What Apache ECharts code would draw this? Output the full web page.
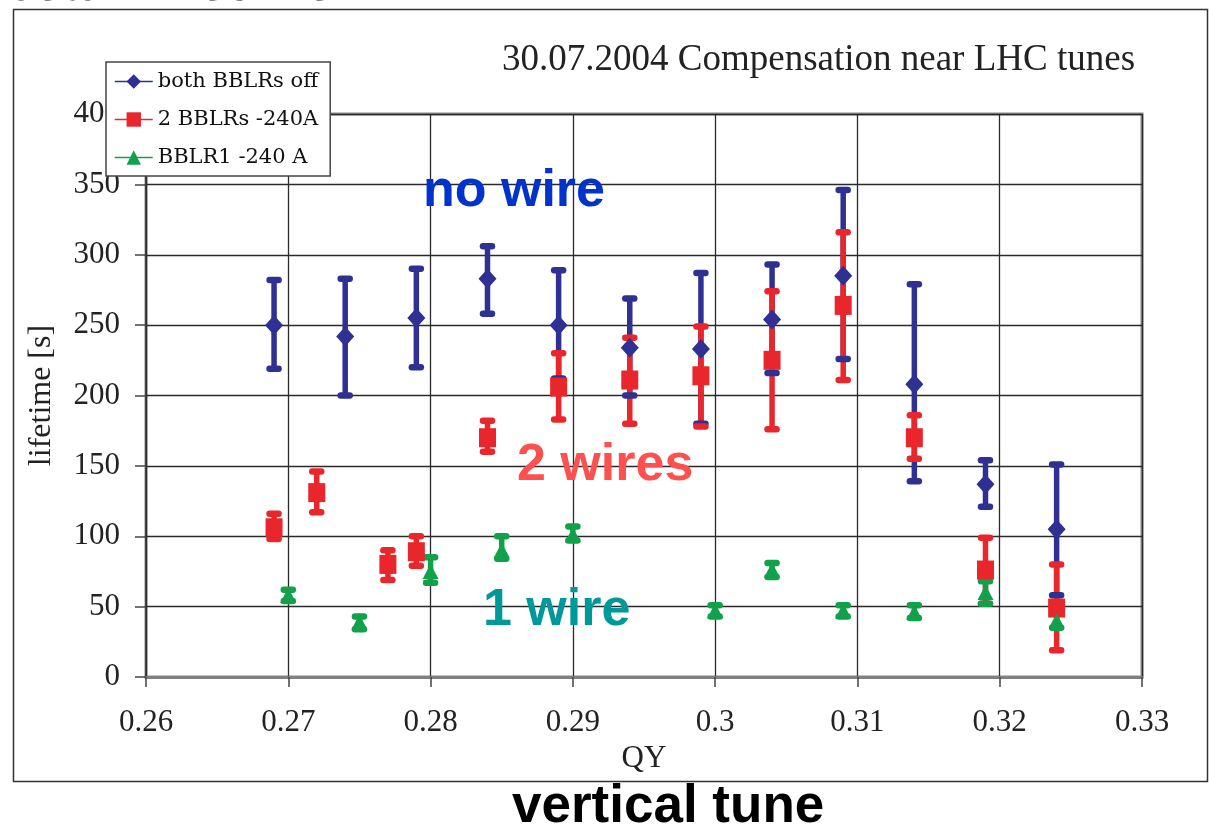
<!DOCTYPE html>
<html>
<head>
<meta charset="utf-8">
<script src="https://cdn.jsdelivr.net/npm/echarts@6/dist/echarts.min.js"></script>
<style>
html,body{margin:0;padding:0;background:#fff}
#chart{width:1209px;height:824px}
</style>
</head>
<body>
<div id="chart"></div>
<script>
// tick labels of the QY axis
const qyTicks = [0.26, 0.27, 0.28, 0.29, 0.30, 0.31, 0.32, 0.33];

// both BBLRs off
const offQY   = [0.269, 0.274, 0.279, 0.284, 0.289, 0.294, 0.299, 0.304, 0.309, 0.314, 0.319, 0.324];
const offLife = [250, 242, 255, 283, 250, 234, 233, 254, 285, 208, 137, 105];
const offHi   = [282, 283, 290, 306, 289, 269, 287, 293, 346, 279, 154, 151];
const offLo   = [219, 200, 220, 258, 212, 200, 180, 216, 226, 139, 121, 58];

// 2 BBLRs -240A
const twoQY   = [0.269, 0.272, 0.277, 0.279, 0.284, 0.289, 0.294, 0.299, 0.304, 0.309, 0.314, 0.319, 0.324];
const twoLife = [106, 131, 80, 89, 170, 206, 211, 214, 225, 264, 170, 76, 49];
const twoHi   = [116, 146, 90, 100, 182, 230, 241, 249, 274, 316, 186, 99, 80];
const twoLo   = [98, 117, 69, 79, 160, 183, 180, 178, 176, 211, 155, 52, 19];

// BBLR1 -240 A
const oneQY   = [0.270, 0.275, 0.280, 0.285, 0.290, 0.300, 0.304, 0.309, 0.314, 0.319, 0.324];
const oneLife = [58, 39, 75, 90, 101, 47, 76, 47, 46, 60, 40];
const oneHi   = [62, 43, 85, 100, 107, 51, 81, 51, 51, 68, 45];
const oneLo   = [54, 34, 67, 84, 97, 43, 71, 43, 42, 52, 35];

const BLUE = '#2e3192', RED = '#e8262b', GREEN = '#12a14b';
const SERIF = '"Liberation Serif", "Times New Roman", serif';
const SANS = '"Liberation Sans", Arial, sans-serif';

function pts(x, y) {
  return x.map(function (v, i) { return [v, y[i]]; });
}
function errs(x, lo, hi) {
  return x.map(function (v, i) { return [v, lo[i], hi[i]]; });
}

// vertical part of the error bar
function barItem(color) {
  return function (params, api) {
    let a = api.coord([api.value(0), api.value(1)]);
    let b = api.coord([api.value(0), api.value(2)]);
    return {type: 'line', shape: {x1: a[0], y1: a[1], x2: b[0], y2: b[1]},
      style: {stroke: color, lineWidth: 5.5}};
  };
}
// the little rounded caps
function capItem(color) {
  return function (params, api) {
    let a = api.coord([api.value(0), api.value(1)]);
    let b = api.coord([api.value(0), api.value(2)]);
    let cap = function (p) {
      return {type: 'line', shape: {x1: p[0] - 4.5, y1: p[1], x2: p[0] + 4.5, y2: p[1]},
        style: {stroke: color, lineWidth: 6.5, lineCap: 'round'}};
    };
    return {type: 'group', children: [cap(a), cap(b)]};
  };
}
function errSeries(id, data, render, z) {
  return {id: id, type: 'custom', data: data, renderItem: render, z: z, silent: true,
    encode: {x: 0, y: [1, 2]}};
}
function markSeries(name, data, color, symbol, size, z) {
  return {name: name, type: 'line', data: data, symbol: symbol, symbolSize: size,
    itemStyle: {color: color}, lineStyle: {width: 0, opacity: 0}, z: z, silent: true};
}

let myChart = echarts.init(document.getElementById('chart'));
let option = {
  animation: false,
  backgroundColor: '#fff',
  grid: {left: 146, right: 67, top: 114, bottom: 147, show: true,
    borderColor: '#8a8a8a', borderWidth: 3, backgroundColor: 'transparent'},
  legend: {
    data: ['both BBLRs off', '2 BBLRs -240A', 'BBLR1 -240 A'],
    orient: 'vertical', left: 106, top: 62, z: 20,
    backgroundColor: '#fff', borderColor: '#444', borderWidth: 1.5,
    padding: [9, 12, 8, 8], itemGap: 17, itemWidth: 38, itemHeight: 18,
    lineStyle: {width: 1.5, opacity: 1},
    textStyle: {fontFamily: '"DejaVu Serif", serif', fontSize: 21, lineHeight: 21, color: '#111'}
  },
  xAxis: {
    type: 'value', min: qyTicks[0], max: qyTicks[qyTicks.length - 1], interval: 0.01,
    name: 'QY', nameLocation: 'middle', nameGap: 66,
    nameTextStyle: {fontFamily: SERIF, fontSize: 31, color: '#222'},
    axisLine: {show: true, lineStyle: {color: '#808080', width: 3}},
    axisTick: {show: true, length: 10, lineStyle: {color: '#444', width: 1.5}},
    axisLabel: {margin: 30, fontFamily: SERIF, fontSize: 31, color: '#222',
      formatter: function (v) { return String(+v.toFixed(2)); }},
    splitLine: {show: true, lineStyle: {color: '#2a2a2a', width: 1.3}}
  },
  yAxis: {
    type: 'value', min: 0, max: 400, interval: 50,
    name: 'lifetime [s]', nameLocation: 'middle', nameGap: 88,
    nameTextStyle: {fontFamily: SERIF, fontSize: 32, color: '#222'},
    axisLine: {show: true, lineStyle: {color: '#333', width: 1.5}},
    axisTick: {show: true, length: 11, lineStyle: {color: '#444', width: 1.5}},
    axisLabel: {margin: 26, fontFamily: SERIF, fontSize: 31, color: '#222'},
    splitLine: {show: true, lineStyle: {color: '#2a2a2a', width: 1.3}}
  },
  series: [
    errSeries('offBars', errs(offQY, offLo, offHi), barItem(BLUE), 3),
    errSeries('twoBars', errs(twoQY, twoLo, twoHi), barItem(RED), 4),
    errSeries('oneBars', errs(oneQY, oneLo, oneHi), barItem(GREEN), 5),
    errSeries('offCaps', errs(offQY, offLo, offHi), capItem(BLUE), 6),
    errSeries('twoCaps', errs(twoQY, twoLo, twoHi), capItem(RED), 7),
    errSeries('oneCaps', errs(oneQY, oneLo, oneHi), capItem(GREEN), 8),
    markSeries('both BBLRs off', pts(offQY, offLife), BLUE, 'diamond', [18, 20], 9),
    markSeries('2 BBLRs -240A', pts(twoQY, twoLife), RED, 'rect', [17, 19], 10),
    markSeries('BBLR1 -240 A', pts(oneQY, oneLife), GREEN, 'triangle', [16, 15], 11)
  ],
  graphic: [
    {type: 'rect', shape: {x: 13.5, y: 9.5, width: 1194, height: 772}, z: -1,
      style: {fill: 'none', stroke: '#333', lineWidth: 1.5}},
    // page heading cut off at the top edge of the picture
    {type: 'text', x: 2, y: 12, z: 30,
      style: {text: 'beam lifetime', font: 'bold 52px ' + SANS, fill: '#000',
        verticalAlign: 'bottom'}},
    {type: 'text', left: 502, top: 42, z: 30,
      style: {text: '30.07.2004 Compensation near LHC tunes', font: '37px ' + SERIF, fill: '#222'}},
    {type: 'text', left: 423, top: 166, z: 30,
      style: {text: 'no wire', font: 'bold 52px ' + SANS, fill: '#0033cc'}},
    {type: 'text', left: 517, top: 440, z: 30,
      style: {text: '2 wires', font: 'bold 52px ' + SANS, fill: '#ff5050'}},
    {type: 'text', left: 483, top: 585, z: 30,
      style: {text: '1 wire', font: 'bold 52px ' + SANS, fill: '#009999'}},
    {type: 'text', left: 512, top: 781, z: 30,
      style: {text: 'vertical tune', font: 'bold 53px ' + SANS, fill: '#000'}}
  ]
};
myChart.setOption(option);
</script>
</body>
</html>
